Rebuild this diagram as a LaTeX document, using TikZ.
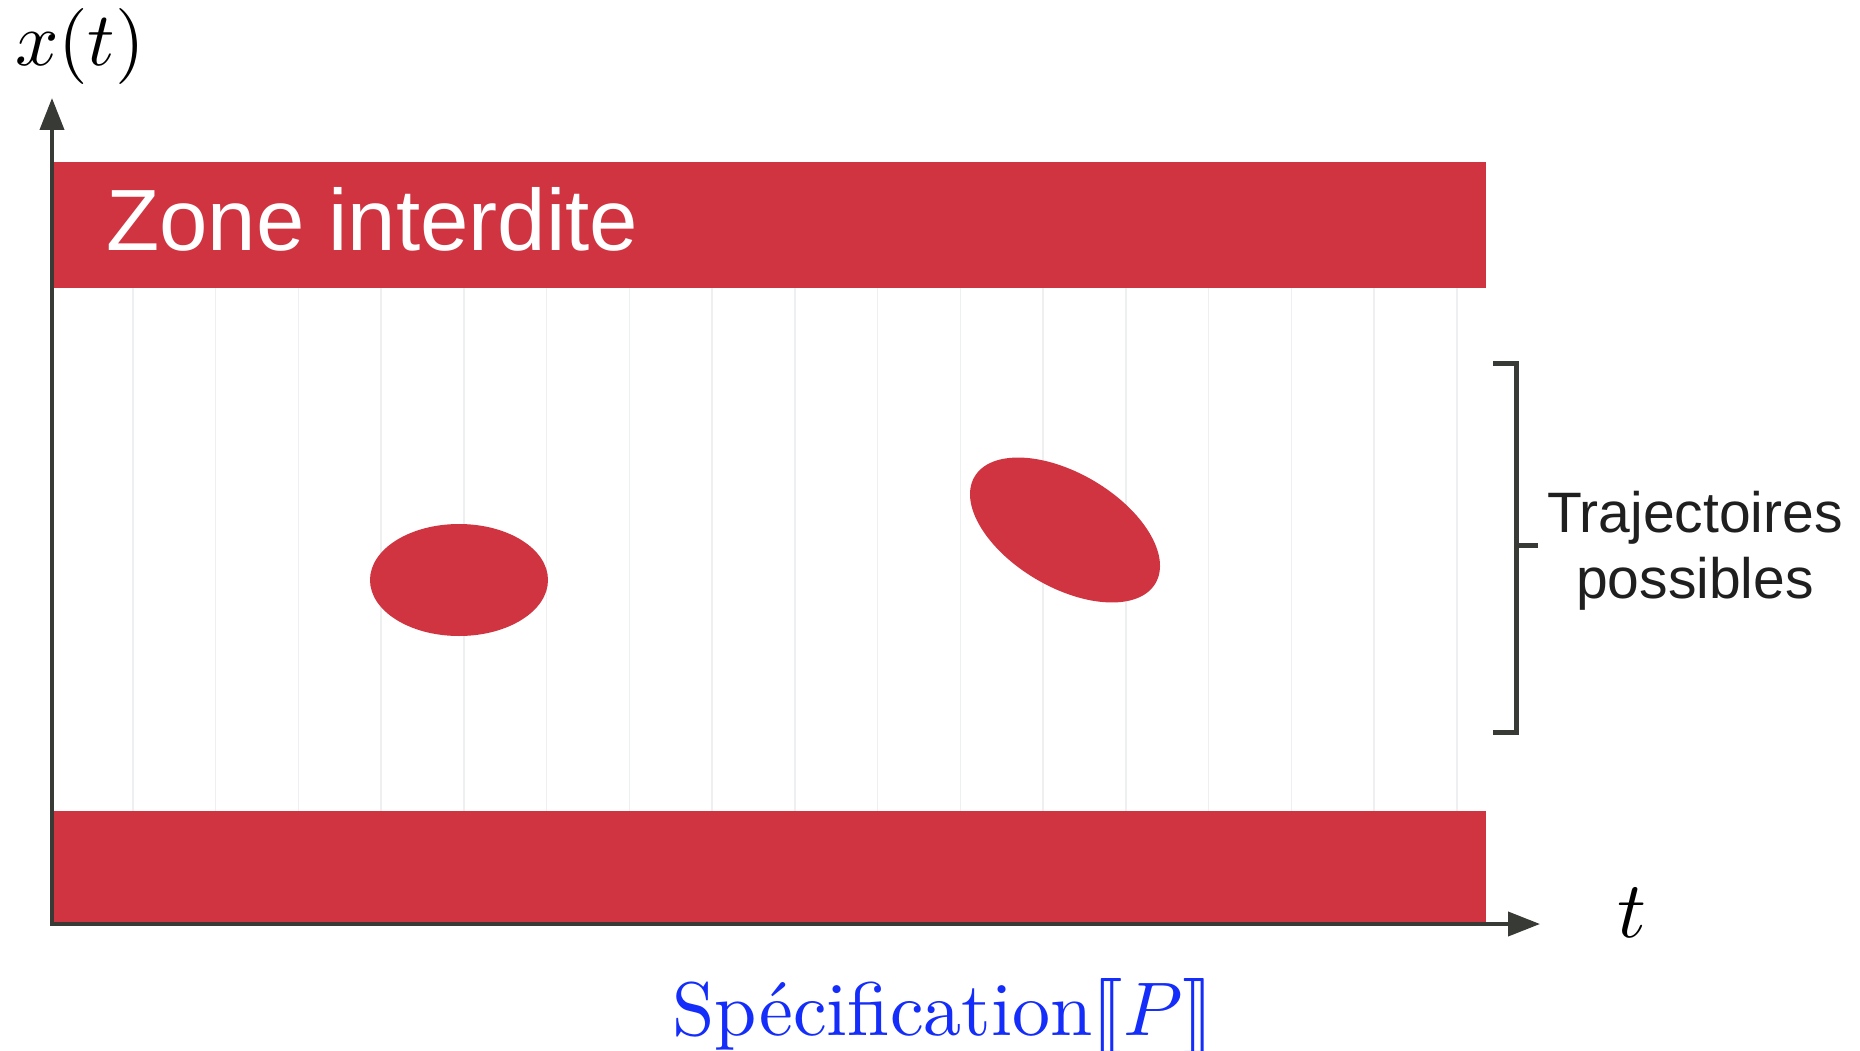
\documentclass[tikz,border=0pt]{standalone}
\usepackage{fontspec}
\usepackage{graphicx}
\IfFileExists{stmaryrd.sty}{\usepackage{stmaryrd}\newcommand\myllb{\llbracket}\newcommand\myrrb{\rrbracket}}{\newcommand\myllb{[\mkern-3.5mu[}\newcommand\myrrb{]\mkern-3.5mu]}}
\newfontfamily\arialfont{Liberation Sans}
\usetikzlibrary{arrows.meta}
\definecolor{zred}{RGB}{208,52,65}
\definecolor{axisgray}{RGB}{56,58,53}
\definecolor{specblue}{RGB}{20,45,250}
\definecolor{gridgray}{RGB}{238,239,240}
\tikzset{
  zone/.style={fill=zred, draw=none},
  axisline/.style={draw=axisgray, line width=4pt, line join=miter,
     {Triangle[length=32pt,width=24pt]}-{Triangle[length=32pt,width=24pt]}},
  bracketline/.style={draw=axisgray, line width=5pt},
  gridline/.style={draw=gridgray, line width=1.5pt},
}
\begin{document}
\begin{tikzpicture}[x=1pt,y=-1pt]
\useasboundingbox (0,0) rectangle (1860,1051);
\fill[white] (0,0) rectangle (1860,1051);
% grid
\foreach \k in {1,...,17} {
  \draw[gridline] ({50+82.75*\k},288) -- ({50+82.75*\k},811);
}
% forbidden zones
\fill[zone] (53,162) rectangle (1486,288);
\fill[zone] (53,811) rectangle (1486,923);
\fill[zone] (459,580) ellipse [x radius=89, y radius=56];
\fill[zone, rotate around={-30.5:(1065,530)}] (1065,530) ellipse [x radius=105, y radius=57];
% axes
\coordinate (ytip) at (52,98);
\coordinate (orig) at (52,924);
\coordinate (xtip) at (1540,924);
\draw[axisline] (ytip) -- (orig) -- (xtip);
% bracket
\coordinate (btop) at (1493,363);
\coordinate (bbot) at (1493,732);
\coordinate (bmid) at (1516,545);
\coordinate (bout) at (1538,545);
\draw[bracketline] (btop) -- (1516,363) -- (1516,732) -- (bbot);
\draw[bracketline] (bmid) -- (bout);
% texts
\node[anchor=base, inner sep=0pt] (xlabel) at (80,66) {\scalebox{7.6}{$x(t)$}};
\node[anchor=base, inner sep=0pt] (tlabel) at (1632,937) {\scalebox{8}{$t$}};
\node[anchor=base west, inner sep=0pt, text=white, font=\arialfont\fontsize{87}{96}\selectfont] (zone) at (106,251) {Zone interdite};
\node[anchor=center, inner sep=0pt, align=center, text=black!88, font=\arialfont\fontsize{57}{66}\selectfont] (traj) at (1695,551) {Trajectoires\\possibles};
\node[anchor=base, inner sep=0pt, text=specblue] (spec) at (943,1035) {\scalebox{7.6}{Spécification$\myllb P\myrrb$}};
\end{tikzpicture}
\end{document}
